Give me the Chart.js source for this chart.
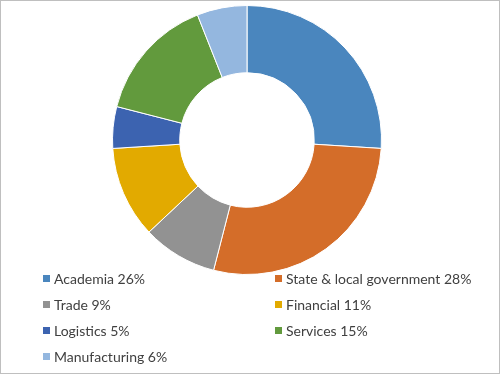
<!DOCTYPE html>
<html>
<head>
<meta charset="utf-8">
<script src="https://cdn.jsdelivr.net/npm/chart.js@4.4.1/dist/chart.umd.min.js"></script>
<style>
  html, body { margin: 0; padding: 0; background: #fff; }
  #frame {
    position: relative;
    width: 498px;
    height: 372px;
    border: 1px solid #bfbfbf;
    overflow: hidden;
  }
  #ring {
    position: absolute;
    left: 111px;
    top: 4px;
    width: 270px;
    height: 270px;
  }
  #legend {
    position: absolute;
    left: 42px;
    top: 264px;
    width: 440px;
    display: grid;
    grid-template-columns: 232px 200px;
    grid-auto-rows: 26px;
    font-family: "Lato", "Open Sans", sans-serif;
    font-size: 14px;
    color: #404040;
  }
  .item { display: flex; align-items: center; white-space: nowrap; }
  .box { width: 7px; height: 7px; margin-right: 4px; }
</style>
</head>
<body>
<div id="frame">
  <div id="ring"><canvas id="myChart"></canvas></div>
  <div id="legend"></div>
</div>
<script>
const sectors = ["Academia", "State & local government", "Trade", "Financial", "Logistics", "Services", "Manufacturing"];
const shares = [26, 28, 9, 11, 5, 15, 6];
const sliceColors = ["#4a86be", "#d46d29", "#929292", "#e2aa00", "#3c63b0", "#629a3d", "#94b7df"];

const legendBox = document.getElementById("legend");
sectors.forEach((name, i) => {
  const item = document.createElement("div");
  item.className = "item";
  const box = document.createElement("span");
  box.className = "box";
  box.style.background = sliceColors[i];
  item.appendChild(box);
  item.appendChild(document.createTextNode(name + " " + shares[i] + "%"));
  legendBox.appendChild(item);
});

const ctx = document.getElementById("myChart").getContext("2d");
const myChart = new Chart(ctx, {
  type: "doughnut",
  data: {
    labels: sectors,
    datasets: [
      {
        data: shares,
        backgroundColor: sliceColors,
        borderColor: "#ffffff",
        borderWidth: 1,
      },
    ],
  },
  options: {
    responsive: true,
    maintainAspectRatio: false,
    animation: false,
    cutout: "50%",
    plugins: {
      legend: { display: false },
      tooltip: { enabled: false },
    },
  },
});
</script>
</body>
</html>
